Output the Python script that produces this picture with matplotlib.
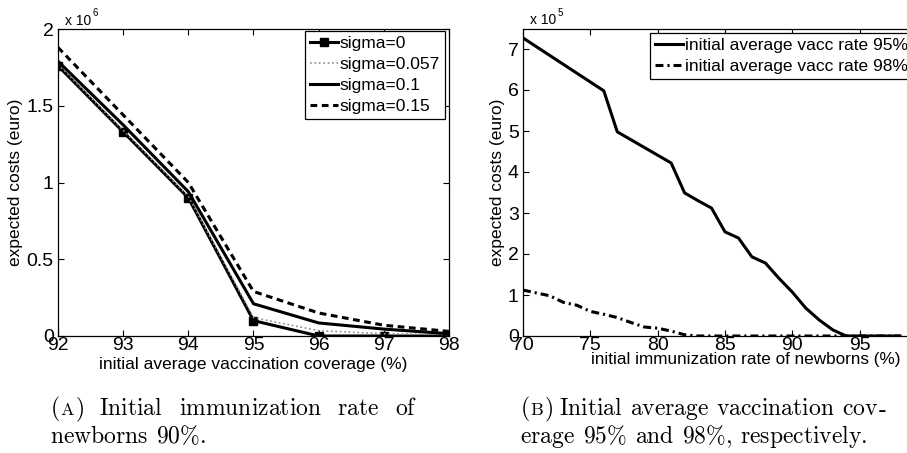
import matplotlib
matplotlib.use('Agg')
import matplotlib.pyplot as plt

plt.rcParams['font.family'] = ['Liberation Sans', 'DejaVu Sans']
plt.rcParams['mathtext.fontset'] = 'cm'

# panel A: expected costs (x 10^6 euro) vs initial average vaccination coverage
coverage = [92, 93, 94, 95, 96, 97, 98]
sigma_0 = [1.76, 1.33, 0.90, 0.10, 0.0, 0.0, 0.0]
sigma_0057 = [1.77, 1.34, 0.91, 0.12, 0.035, 0.015, 0.01]
sigma_01 = [1.79, 1.375, 0.94, 0.21, 0.085, 0.045, 0.015]
sigma_015 = [1.88, 1.44, 1.00, 0.29, 0.15, 0.07, 0.03]
sigma_labels = ['sigma=0', 'sigma=0.057', 'sigma=0.1', 'sigma=0.15']

# panel B: expected costs (x 10^5 euro) vs initial immunization rate of newborns
newborn_95 = [70, 76, 77, 81, 82, 83, 84, 85, 86, 87, 88, 89, 90, 91, 92, 93, 94, 95, 96, 97, 98]
cost_95 = [7.27, 5.98, 4.98, 4.22, 3.49, 3.30, 3.12, 2.54, 2.39, 1.93, 1.78, 1.41, 1.07,
           0.68, 0.39, 0.15, 0.0, 0.0, 0.0, 0.0, 0.0]
newborn_98 = [70, 71, 72, 73, 74, 75, 76, 77, 78, 79, 80, 81, 82, 83, 98]
cost_98 = [1.12, 1.05, 0.98, 0.82, 0.75, 0.60, 0.53, 0.45, 0.33, 0.22, 0.19, 0.12, 0.03, 0.0, 0.0]
vacc_labels = ['initial average vacc rate 95%', 'initial average vacc rate 98%']

fig = plt.figure(figsize=(9.07, 4.53), dpi=100)
W, H = 907, 453


def px_axes(x0, x1, ytop, ybot):
    return fig.add_axes([x0 / W, 1 - ybot / H, (x1 - x0) / W, (ybot - ytop) / H])


def style(ax):
    ax.tick_params(direction='in', top=True, right=True, labelsize=14, length=4)
    ax.tick_params(axis='x', pad=1)
    ax.tick_params(axis='y', pad=3)
    for s in ax.spines.values():
        s.set_linewidth(0.9)


def exponent(ax, power):
    # MATLAB style "x 10^n" above the top-left corner
    ax.annotate('x 10', xy=(0, 1), xycoords='axes fraction', xytext=(5, 3),
                textcoords='offset points', fontsize=10, ha='left', va='baseline')
    ax.annotate(power, xy=(0, 1), xycoords='axes fraction', xytext=(25, 9),
                textcoords='offset points', fontsize=7, ha='left', va='baseline')


def make_legend(ax, anchor, spacing):
    leg = ax.legend(loc='upper left', bbox_to_anchor=anchor, fontsize=12.5,
                    handlelength=1.6, handletextpad=0.1, labelspacing=spacing,
                    borderpad=0.3, borderaxespad=0, fancybox=False, framealpha=1,
                    edgecolor='black')
    leg.get_frame().set_linewidth(0.9)
    return leg


# ---- panel A
ax1 = px_axes(58, 449, 29, 336)
ax1.plot(coverage, sigma_0, color='black', lw=2.2, marker='s', ms=6, label=sigma_labels[0])
ax1.plot(coverage, sigma_0057, color='#8c8c8c', lw=1.2, ls=':', label=sigma_labels[1])
ax1.plot(coverage, sigma_01, color='black', lw=2.2, label=sigma_labels[2])
ax1.plot(coverage, sigma_015, color='black', lw=2.2, ls=(0, (2.2, 1.5)), label=sigma_labels[3])
ax1.set_xlim(92, 98)
ax1.set_ylim(0, 2)
ax1.set_xticks(coverage)
ax1.set_yticks([0, 0.5, 1, 1.5, 2])
ax1.set_yticklabels(['0', '0.5', '1', '1.5', '2'])
style(ax1)
ax1.set_xlabel('initial average vaccination coverage (%)', fontsize=12.5, va='top')
ax1.xaxis.set_label_coords(0.5, -21 / 307)
ax1.set_ylabel('expected costs (euro)', fontsize=12.5)
ax1.yaxis.set_label_coords(-35 / 391, 0.5)
exponent(ax1, '6')
make_legend(ax1, ((305 - 58) / 391, (336 - 31) / 307), 0.33)

# ---- panel B (right side runs past the figure edge, like the reference)
ax2 = px_axes(523, 927, 28.5, 336)
ax2.plot(newborn_95, cost_95, color='black', lw=2.2, label=vacc_labels[0])
ax2.plot(newborn_98, cost_98, color='black', lw=2.2, ls=(0, (2.6, 1.3, 0.7, 1.3)),
         label=vacc_labels[1])
ax2.set_xlim(70, 100)
ax2.set_ylim(0, 7.5)
ax2.set_xticks([70, 75, 80, 85, 90, 95])
ax2.set_yticks(range(8))
style(ax2)
ax2.set_xlabel('initial immunization rate of newborns (%)', fontsize=12.3, va='top')
ax2.xaxis.set_label_coords((746 - 523) / 404, -16 / 307.5)
ax2.set_ylabel('expected costs (euro)', fontsize=12.5)
ax2.yaxis.set_label_coords(-18 / 404, 0.5)
exponent(ax2, '5')
make_legend(ax2, ((650 - 523) / 404, (336 - 33) / 307.5), 0.3)

# ---- captions (LaTeX-like, justified lines, small-caps letter)
renderer = fig.canvas.get_renderer()
CAP = 17


def caption_line(words, x0, y, x1=None, size=CAP):
    # words: list of words, each a list of (text, fontsize) pieces
    placed = []
    widths = []
    for word in words:
        parts = []
        w = 0
        for txt, fs in word:
            t = fig.text(0, 1 - y / H, r'$\mathrm{' + txt + '}$', fontsize=fs,
                         ha='left', va='baseline')
            tw = t.get_window_extent(renderer).width
            parts.append((t, tw))
            w += tw
        placed.append(parts)
        widths.append(w)
    if x1 is None or len(words) < 2:
        gap = 0.33 * size * 100 / 72
    else:
        gap = (x1 - x0 - sum(widths)) / (len(words) - 1)
    x = x0
    for parts, w in zip(placed, widths):
        xx = x
        for t, tw in parts:
            t.set_x(xx / W)
            xx += tw
        x += w + gap


def plain(text, size=CAP):
    return [[(w.replace('%', r'\%'), size)] for w in text.split(' ')]


tag_a = [[('(', CAP), ('A', 13), (')', CAP)]]
tag_b = [[('(', CAP), ('B', 13), (')', CAP)]]
caption_line(tag_a + plain('Initial immunization rate of'), 50, 415, 417)
caption_line(plain('newborns 90%.'), 50, 443)
caption_line(tag_b + plain('Initial average vaccination') + [[('cov', CAP), (r'\text{-}', CAP)]],
             520, 415, 887)
caption_line(plain('erage 95% and 98%, respectively.'), 520, 443)

fig.savefig('out.png', dpi=100)
